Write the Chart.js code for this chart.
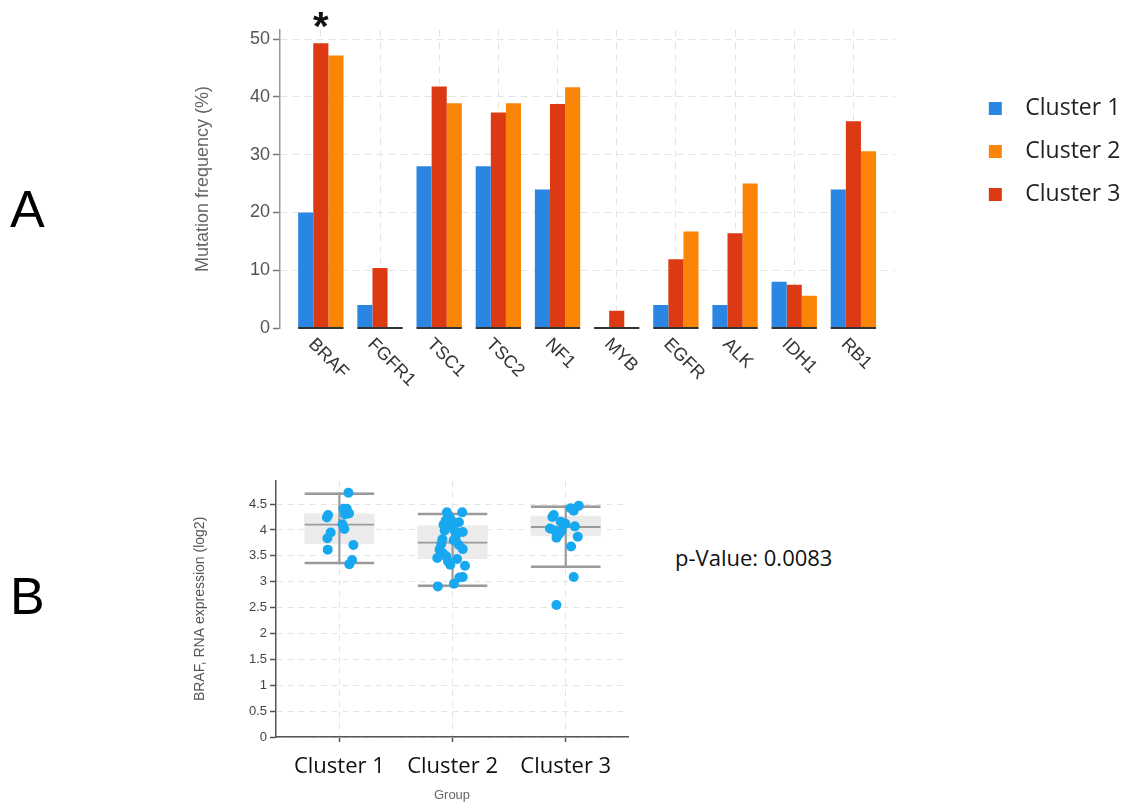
<!DOCTYPE html>
<html>
<head>
<meta charset="utf-8">
<script src="https://cdn.jsdelivr.net/npm/chart.js@4.4.1/dist/chart.umd.min.js"></script>
<style>
  html, body { margin: 0; padding: 0; background: #fff; overflow: hidden; }
  body { width: 1129px; height: 806px; position: relative; font-family: 'Liberation Sans', Arial, sans-serif; }
  canvas { position: absolute; }
  #chartA { left: 180px; top: 0; }
  #chartB { left: 180px; top: 470px; }
  .panel { position: absolute; left: 10px; font-size: 52px; line-height: 1; color: #000; }
  #pval { position: absolute; left: 675px; top: 546px; font: 22px 'Open Sans', sans-serif; line-height: 1; color: #111; }
</style>
</head>
<body>
<div class="panel" style="top:183px">A</div>
<div class="panel" style="top:570px">B</div>
<div id="pval">p-Value: 0.0083</div>
<canvas id="chartA" width="951" height="420"></canvas>
<canvas id="chartB" width="470" height="336"></canvas>
<script>
// panel A: mutation frequency per gene (%)
const genes = ['BRAF', 'FGFR1', 'TSC1', 'TSC2', 'NF1', 'MYB', 'EGFR', 'ALK', 'IDH1', 'RB1'];
const cluster1Freq = [20, 4, 28, 28, 24, 0, 4, 4, 8, 24];
const cluster2Freq = [47.2, 0, 38.9, 38.9, 41.7, 0, 16.7, 25, 5.6, 30.6];
const cluster3Freq = [49.3, 10.4, 41.8, 37.3, 38.8, 3.0, 11.9, 16.4, 7.5, 35.8];
const significant = ['BRAF'];
const yTicksA = [0, 10, 20, 30, 40, 50];

// panel B: BRAF expression per cluster
const groups = ['Cluster 1', 'Cluster 2', 'Cluster 3'];
const whiskerLow = [3.34, 2.90, 3.27];
const boxQ1 = [3.73, 3.44, 3.88];
const boxMedian = [4.12, 3.77, 4.07];
const boxQ3 = [4.31, 4.08, 4.27];
const whiskerHigh = [4.72, 4.33, 4.47];
const yTicksB = [0, 0.5, 1, 1.5, 2, 2.5, 3, 3.5, 4, 4.5];

const cluster1Expr = [4.72, 4.41, 4.41, 4.32, 4.30, 4.29, 4.24, 4.11, 4.02, 3.95, 3.84, 3.71, 3.62, 3.42, 3.34];
const cluster1Jitter = [0.08, 0.035, 0.065, 0.085, 0.05, -0.10, -0.11, 0.027, 0.044, -0.077, -0.106, 0.124, -0.103, 0.112, 0.088];
const cluster2Expr = [4.34, 4.34, 4.28, 4.24, 4.18, 4.19, 4.15, 4.10, 4.07, 3.99, 3.99, 3.96, 3.91, 3.82, 3.81, 3.80,
  3.73, 3.71, 3.62, 3.63, 3.55, 3.46, 3.49, 3.44, 3.39, 3.33, 3.31, 3.09, 3.08, 2.96, 2.91];
const cluster2Jitter = [-0.05, 0.085, -0.04, -0.027, -0.062, -0.012, 0.056, -0.08, -0.003, -0.07, 0.018, 0.09, 0.032, -0.09, 0.027, 0.01,
  -0.10, 0.056, -0.115, 0.09, -0.085, -0.135, -0.056, 0.04, -0.04, -0.02, 0.11, 0.09, 0.06, 0.012, -0.13];
const cluster3Expr = [4.47, 4.42, 4.37, 4.29, 4.25, 4.16, 4.12, 4.07, 4.03, 3.99, 3.98, 3.92, 3.85, 3.87, 3.68, 3.09, 2.55];
const cluster3Jitter = [0.115, 0.044, 0.07, -0.106, -0.118, -0.044, -0.003, 0.08, -0.14, -0.097, -0.038, -0.06, -0.082, 0.106, 0.047, 0.07, -0.082];

const blue = '#2a86e2', orange = '#fb8507', red = '#dc3a12';
const gridGrey = '#e4e4e4', lineGrey = '#9a9a9a';

Chart.defaults.font.family = "'Liberation Sans', Arial, sans-serif";
Chart.defaults.animation = false;

// gene names, rotated down to the right
const geneLabels = {
  id: 'geneLabels',
  afterDraw(chart) {
    const { ctx, scales: { x, y } } = chart;
    const base = y.getPixelForValue(0);
    ctx.save();
    ctx.font = "18px 'Liberation Sans', Arial, sans-serif";
    ctx.fillStyle = '#333';
    ctx.textAlign = 'left';
    ctx.textBaseline = 'alphabetic';
    genes.forEach((g, i) => {
      ctx.save();
      ctx.translate(x.getPixelForValue(i) - 13, base + 17);
      ctx.rotate(Math.PI / 4);
      ctx.fillText(g, 0, 0);
      ctx.restore();
    });
    ctx.restore();
  }
};

// dark base line under each group of bars + significance star
const groupBase = {
  id: 'groupBase',
  afterDatasetsDraw(chart) {
    const { ctx, scales: { y } } = chart;
    const first = chart.getDatasetMeta(0).data;
    const last = chart.getDatasetMeta(2).data;
    const base = y.getPixelForValue(0);
    ctx.save();
    ctx.strokeStyle = '#333';
    ctx.lineWidth = 2;
    genes.forEach((g, i) => {
      ctx.beginPath();
      ctx.moveTo(first[i].x - first[i].width / 2, base);
      ctx.lineTo(last[i].x + last[i].width / 2, base);
      ctx.stroke();
    });
    ctx.font = "bold 40px 'Liberation Sans', Arial, sans-serif";
    ctx.fillStyle = '#111';
    ctx.textAlign = 'center';
    ctx.textBaseline = 'alphabetic';
    significant.forEach(g => {
      const bar = chart.getDatasetMeta(1).data[genes.indexOf(g)];
      ctx.fillText('*', bar.x, bar.y - 3);
    });
    ctx.restore();
  }
};

const asPoints = arr => arr.map((v, i) => ({ x: i, y: v }));
const barOpts = { categoryPercentage: 0.766, barPercentage: 1 };

new Chart(document.getElementById('chartA'), {
  type: 'bar',
  data: {
    datasets: [
      { label: 'Cluster 1', data: asPoints(cluster1Freq), backgroundColor: blue, ...barOpts },
      { label: 'Cluster 3', data: asPoints(cluster3Freq), backgroundColor: red, ...barOpts },
      { label: 'Cluster 2', data: asPoints(cluster2Freq), backgroundColor: orange, ...barOpts }
    ]
  },
  options: {
    responsive: false,
    events: [],
    layout: { padding: { left: 8, right: 6, top: 30, bottom: 0 } },
    plugins: {
      tooltip: { enabled: false },
      legend: {
        position: 'right',
        align: 'start',
        title: { display: true, text: ' ', font: { size: 10 }, padding: { top: 0, bottom: 35 } },
        labels: {
          boxWidth: 13, boxHeight: 13, padding: 20, color: '#222',
          font: { family: "'Open Sans', sans-serif", size: 23 },
          generateLabels: chart => Chart.defaults.plugins.legend.labels.generateLabels(chart)
            .map(l => ({ ...l, text: '  ' + l.text })),
          sort: (a, b) => a.text.localeCompare(b.text)
        }
      }
    },
    scales: {
      x: {
        type: 'linear', min: -0.69, max: 9.7, offset: false,
        afterBuildTicks: s => { s.ticks = genes.map((g, i) => ({ value: i })); },
        ticks: { display: false },
        grid: { color: gridGrey, drawTicks: false, offset: false },
        border: { display: false, dash: [7, 5] },
        afterFit: s => { s.height = 92; }
      },
      y: {
        min: 0, max: 51.6,
        afterBuildTicks: s => { s.ticks = yTicksA.map(v => ({ value: v })); },
        ticks: { font: { size: 18 }, color: '#555', padding: 3 },
        grid: {
          color: c => (c.tick && c.tick.value === 0 ? 'rgba(0,0,0,0)' : gridGrey),
          tickColor: '#777', tickLength: 7, tickWidth: 1.5
        },
        border: { color: '#999', width: 1.5, dash: [7, 5] },
        title: { display: true, text: 'Mutation frequency (%)', font: { size: 18 }, color: '#666', padding: { top: 4, bottom: 0 } },
        afterFit: s => { s.width = 92; }
      },
      gap: {
        type: 'linear', position: 'right', display: true,
        grid: { display: false }, ticks: { display: false }, border: { display: false },
        afterFit: s => { s.width = 74; }
      }
    }
  },
  plugins: [geneLabels, groupBase]
});

// panel B: box plot built from floating bars + jittered points
const exprPoints = [];
[[cluster1Expr, cluster1Jitter], [cluster2Expr, cluster2Jitter], [cluster3Expr, cluster3Jitter]].forEach(([vals, jit], g) => {
  vals.forEach((v, i) => exprPoints.push({ x: g + 1 + jit[i], y: v }));
});
const spans = (lo, hi) => groups.map((g, i) => ({ x: i + 1, y: [lo[i], hi[i]] }));
const noBorder = { top: 0, right: 0, bottom: 0, left: 0 };

new Chart(document.getElementById('chartB'), {
  type: 'bar',
  data: {
    datasets: [
      { type: 'scatter', data: exprPoints, backgroundColor: '#18a8f0', borderWidth: 0, pointRadius: 5 },
      { data: spans(whiskerLow, whiskerHigh), backgroundColor: lineGrey, barThickness: 1.5, grouped: false },
      { data: spans(boxQ1, boxMedian), backgroundColor: '#ebebeb', borderColor: lineGrey,
        borderWidth: { ...noBorder, top: 2 }, borderSkipped: false, barThickness: 70, grouped: false },
      { data: spans(boxMedian, boxQ3), backgroundColor: '#ebebeb', barThickness: 70, grouped: false },
      { data: spans(whiskerLow, boxQ1), backgroundColor: 'rgba(0,0,0,0)', borderColor: lineGrey,
        borderWidth: { ...noBorder, bottom: 2 }, borderSkipped: false, barThickness: 70, grouped: false },
      { data: spans(boxQ3, whiskerHigh), backgroundColor: 'rgba(0,0,0,0)', borderColor: lineGrey,
        borderWidth: { ...noBorder, top: 2 }, borderSkipped: false, barThickness: 70, grouped: false }
    ]
  },
  options: {
    responsive: false,
    events: [],
    layout: { padding: { left: 8, right: 22, top: 8, bottom: 0 } },
    plugins: { legend: { display: false }, tooltip: { enabled: false } },
    scales: {
      x: {
        type: 'linear', min: 0.44, max: 3.55, offset: false,
        afterBuildTicks: s => { s.ticks = groups.map((g, i) => ({ value: i + 1 })); },
        ticks: {
          callback: v => groups[v - 1], autoSkip: false, maxRotation: 0,
          font: { family: "'Open Sans', sans-serif", size: 22 }, color: '#111', padding: 12
        },
        grid: { color: gridGrey, tickColor: '#555', tickLength: 5, tickWidth: 1.5, offset: false },
        border: { color: '#555', width: 1.5, dash: [6, 5] },
        title: { display: true, text: 'Group', font: { size: 13 }, color: '#666', padding: { top: 0, bottom: 3 } },
        afterFit: s => { s.height = 69; }
      },
      y: {
        min: 0, max: 4.95,
        afterBuildTicks: s => { s.ticks = yTicksB.map(v => ({ value: v })); },
        ticks: { font: { size: 13 }, color: '#444', padding: 3, callback: v => String(v) },
        grid: { color: gridGrey, tickColor: '#555', tickLength: 6, tickWidth: 1.5 },
        border: { color: '#555', width: 1.5, dash: [6, 5] },
        title: { display: true, text: 'BRAF, RNA expression (log2)', font: { size: 14 }, color: '#555', padding: { top: 4, bottom: 0 } },
        afterFit: s => { s.width = 88; }
      }
    }
  }
});
</script>
</body>
</html>
